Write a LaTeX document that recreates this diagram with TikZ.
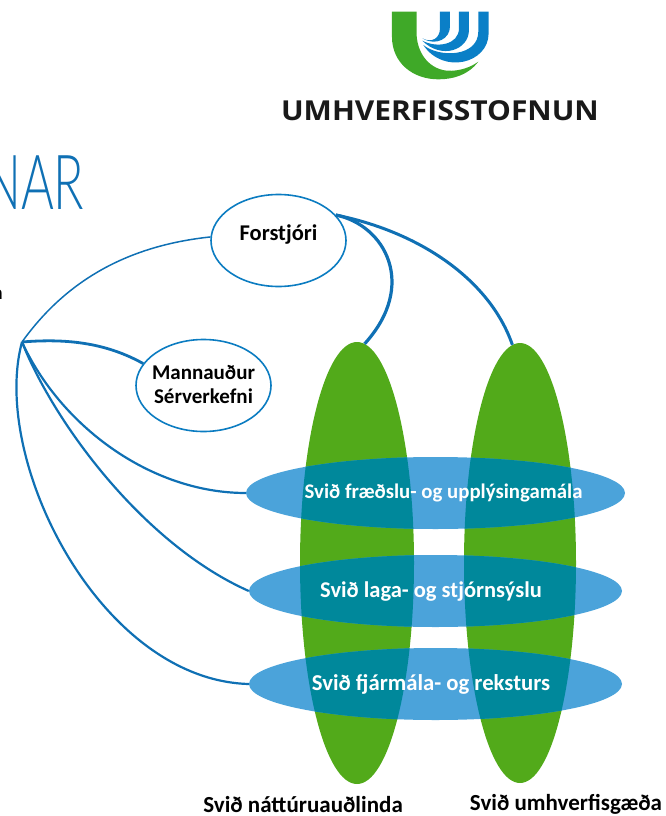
\documentclass[tikz,border=0pt]{standalone}
\usepackage{fontspec}
\setmainfont{Carlito}
\newfontfamily\logofont{Open Sans}
\newfontfamily\titlefont{Lato Light}
\usetikzlibrary{shapes.geometric}
\definecolor{linkblue}{HTML}{0F70B4}
\definecolor{ringblue}{HTML}{0B7CC1}
\definecolor{leaf}{HTML}{52AA1A}
\definecolor{band}{HTML}{4BA3DA}
\definecolor{overlap}{HTML}{00889B}
\definecolor{logogreen}{HTML}{3FA928}
\definecolor{logoblue}{HTML}{0A7FC7}
\tikzset{
  ring/.style={ellipse,draw=ringblue,line width=1.6pt,fill=white,inner sep=0pt,align=center,text=black},
  link/.style={draw=linkblue,line width=#1},
  link/.default=2.2pt,
  lbl/.style={font=\bfseries\fontsize{#1}{23}\selectfont,text=white,inner sep=0pt},
  captxt/.style={font=\bfseries\fontsize{23}{23}\selectfont,text=black,inner sep=0pt}
}
\begin{document}
\begin{tikzpicture}[x=1pt,y=-1pt]
\useasboundingbox (0,0) rectangle (665,816);
\clip (0,0) rectangle (665,816);
% green columns
\node[ellipse,fill=leaf,minimum width=114pt,minimum height=442pt,inner sep=0pt] (gA) at (357,563) {};
\node[ellipse,fill=leaf,minimum width=112pt,minimum height=440pt,inner sep=0pt] (gB) at (520,563) {};
% bands
\foreach \cy/\rx/\n in {493/189.5/bA,591/186.5/bB,684/186.5/bC}{
  \node[ellipse,fill=band,minimum width=2*\rx pt,minimum height=72pt,inner sep=0pt] (\n) at (435.5,\cy) {};
  \begin{scope}
    \clip (357,563) ellipse [x radius=57,y radius=221] (520,563) ellipse [x radius=56,y radius=220];
    \fill[overlap] (435.5,\cy) ellipse [x radius=\rx,y radius=36];
  \end{scope}
}
\node[lbl=20.8] (tA) at (443.5,493) {Svið fræðslu- og upplýsingamála};
\node[lbl=22.5] (tB) at (431,591.5) {Svið laga- og stjórnsýslu};
\node[lbl=22.7] (tC) at (431,684) {Svið fjármála- og reksturs};
% small ellipses
\node[ring,minimum width=135pt,minimum height=92pt,font=\bfseries\fontsize{22.5}{24}\selectfont] (forst) at (278.5,240.5) {\raisebox{0pt}[0pt][0pt]{Forstjóri}};
\node[ring,inner xsep=-14pt,minimum width=135pt,minimum height=92pt,font=\bfseries\fontsize{21}{24}\selectfont] (mann) at (203.5,385.5) {\raisebox{2pt}{Mannauður}\\\raisebox{2pt}{Sérverkefni}};
\coordinate (hub) at (22,342);
% connectors
\draw[link=1.5pt] (hub) .. controls (70,275) and (135,245) .. (forst.177);
\draw[link=2.8pt] (hub) .. controls (70,338) and (108,344) .. (mann.160);
\draw[link] (hub) .. controls (60,425) and (150,493) .. (bA.west);
\draw[link] (hub) .. controls (55,425) and (145,545) .. (bB.west);
\draw[link] (hub) .. controls (-10,460) and (100,680) .. (bC.west);
\draw[link=3.2pt] (forst.24) .. controls (385,225) and (418,285) .. (gA.88);
\draw[link=3pt] (forst.24) .. controls (420,232) and (490,280) .. (gB.92);
% captions
\node[captxt] (capA) at (303,805) {Svið náttúruauðlinda};
\node[captxt] (capB) at (566,804) {Svið umhverfisgæða};
% title fragments
\node[anchor=base west,inner sep=0pt,text=linkblue,font=\titlefont\fontsize{76}{76}\selectfont,xscale=.66] (title) at (-17,209) {NAR};
\node[anchor=base east,inner sep=0pt,font=\fontsize{20}{20}\selectfont] (frag) at (3,299) {h};
% logo
\begin{scope}[x=.3333pt,y=-.3333pt,shift={(780,0)}]
\fill[logogreen] (396,35) -- (470,35) -- (470,100) .. controls (470,150) and (500,205) .. (560,212) .. controls (600,215) and (635,200) .. (655,185) .. controls (625,225) and (580,238) .. (535,238) .. controls (460,238) and (396,190) .. (396,110) -- cycle;
\fill[logoblue] (540,35) -- (570,35) -- (570,80) .. controls (570,115) and (530,140) .. (487,115) .. controls (515,130) and (540,115) .. (540,85) -- cycle;
\fill[logoblue] (597,35) -- (627,35) -- (627,90) .. controls (627,150) and (545,180) .. (487,122) .. controls (530,145) and (597,135) .. (597,85) -- cycle;
\fill[logoblue] (655,35) -- (686,35) -- (686,100) .. controls (686,190) and (550,225) .. (490,135) .. controls (540,175) and (655,170) .. (655,95) -- cycle;
\node[inner sep=0pt,font=\logofont\bfseries\fontsize{27.5}{26}\selectfont,text=black!90,xscale=1.09] (logotext) at (540,333) {UMHVERFISSTOFNUN};
\end{scope}
\end{tikzpicture}
\end{document}
